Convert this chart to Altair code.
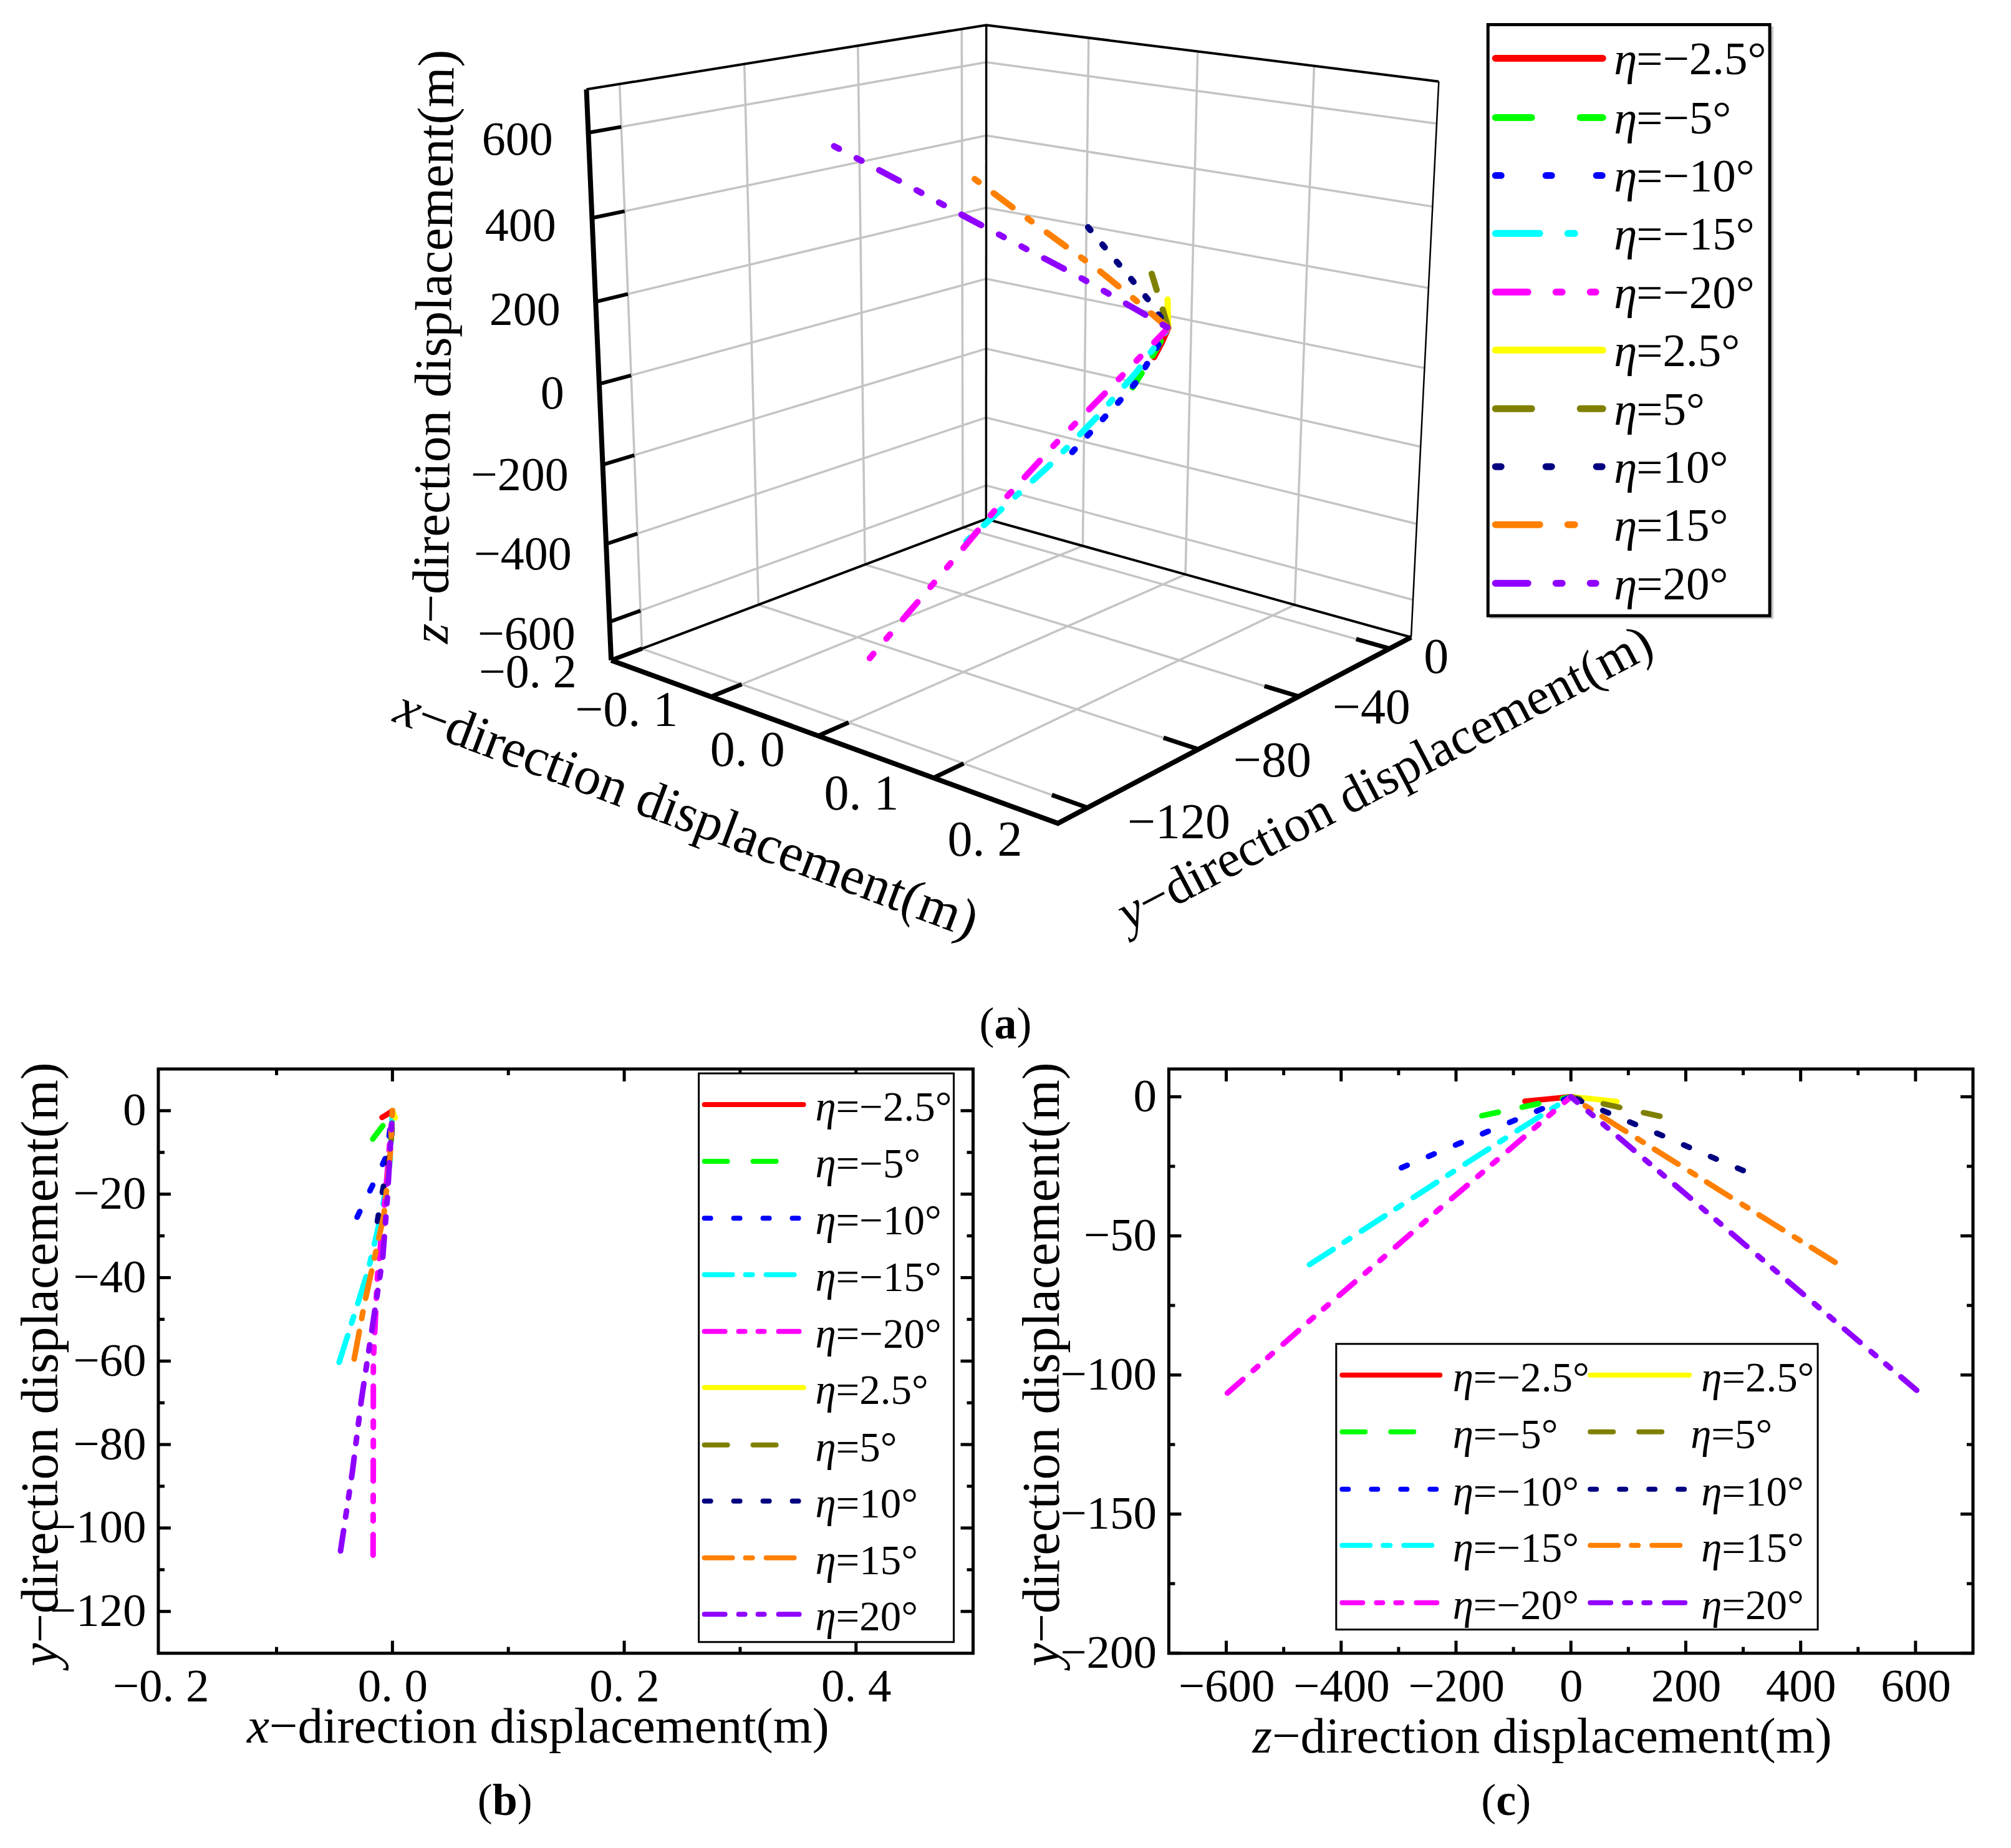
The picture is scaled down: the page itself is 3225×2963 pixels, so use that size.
import math
import numpy as np
import pandas as pd
import altair as alt

FONT = "Liberation Serif"

LABELS = ["−2.5°", "−5°", "−10°", "−15°", "−20°", "2.5°", "5°", "10°", "15°", "20°"]
COLORS = ["#ff0000", "#00ff00", "#0000ff", "#00ffff", "#ff00ff",
          "#ffff00", "#808000", "#000080", "#ff8000", "#8f00ff"]
STYLE = ["solid", "dash", "dot", "dashdot", "dashdotdot"] * 2

# every path runs from its tip back to the origin, so the dash pattern starts at the tip
X_M25 = [-0.009, -0.004, 0];  Y_M25 = [-1.6, -0.8, 0];  Z_M25 = [-80, -40, 0]
X_M5 = [-0.017, -0.008, 0];  Y_M5 = [-6.8, -3.5, 0];  Z_M5 = [-155, -80, 0]
X_M10 = [-0.0305, -0.02, -0.012, -0.005, 0];  Y_M10 = [-25.5, -19.5, -15, -10.7, 0];  Z_M10 = [-295, -226, -174, -124, 0]
X_M15 = [-0.046, -0.0376, -0.0207, -0.009, -0.002, 0];  Y_M15 = [-60.3, -53, -38, -24, -12, 0];  Z_M15 = [-455, -400, -288, -183, -92, 0]
X_M20 = [-0.0167, -0.0165, -0.0165, -0.013, -0.006, 0];  Y_M20 = [-106.5, -80, -60, -40, -20, 0];  Z_M20 = [-598, -452, -339, -227, -113, 0]
X_P25 = [0.0025, 0.001, 0];  Y_P25 = [-1.7, -0.8, 0];  Z_P25 = [80, 40, 0]
X_P5 = [-0.001, -0.0005, 0];  Y_P5 = [-7, -3.5, 0];  Z_P5 = [155, 78, 0]
X_P10 = [-0.013, -0.009, -0.005, -0.001, 0];  Y_P10 = [-26.5, -20, -14, -8, 0];  Z_P10 = [300, 226, 160, 90, 0]
X_P15 = [-0.033, -0.024, -0.0145, -0.0074, -0.002, 0];  Y_P15 = [-59.5, -46, -34, -25, -10.8, 0];  Z_P15 = [460, 355, 262, 193, 83, 0]
X_P20 = [-0.0448, -0.0346, -0.0269, -0.0176, -0.0083, -0.0043, 0];  Y_P20 = [-105.5, -86.6, -69.5, -52.3, -35, -20.5, 0];  Z_P20 = [602, 494, 396, 298, 200, 117, 0]

# x values as they read in the 3-D view, where they differ from panel (b)
X3_P15 = [-0.04, -0.029, -0.018, -0.01, -0.003, 0]
X3_P10 = [-0.016, -0.011, -0.007, -0.002, 0]

SERIES = [(X_M25, Y_M25, Z_M25), (X_M5, Y_M5, Z_M5), (X_M10, Y_M10, Z_M10), (X_M15, Y_M15, Z_M15), (X_M20, Y_M20, Z_M20),
          (X_P25, Y_P25, Z_P25), (X_P5, Y_P5, Z_P5), (X_P10, Y_P10, Z_P10), (X_P15, Y_P15, Z_P15), (X_P20, Y_P20, Z_P20)]
SERIES_3D = list(SERIES)
SERIES_3D[7] = (X3_P10, Y_P10, Z_P10)
SERIES_3D[8] = (X3_P15, Y_P15, Z_P15)

# dash patterns (round caps)
DASH_LEG_A = {"dash": [58, 78], "dot": [9, 72], "dashdot": [71, 45, 11, 61], "dashdotdot": [52, 45, 10, 45, 9, 45]}
DASH_CURVE = {"dash": [27, 39], "dot": [10, 37], "dashdot": [45, 21, 11, 22], "dashdotdot": [33, 22, 10, 21, 10, 23]}
DASH_LEG = {"dash": [37, 41, 37, 90], "dot": [10, 37], "dashdot": [45, 21, 11, 22], "dashdotdot": [33, 22, 10, 21, 10, 23]}
DASH_3D = {"dash": [27, 33], "dot": [6, 30], "dashdot": [8, 30, 38, 30], "dashdotdot": [9, 32, 9, 32, 36, 32]}

# camera calibration of the 3-D box: (x, y, z) -> picture position
CALIB = [(-.2, -130, -700, 977, 1058), (-.2, -130, 700, 937, 142), (-.2, 10, -700, 1582, 832), (-.2, 10, 700, 1582, 40),
         (.2, 10, -700, 2267, 1022), (.2, 10, 700, 2308, 130), (.2, -130, -700, 1698, 1321),
         (-.1, -130, -700, 1142, 1116.5), (0, -130, -700, 1314, 1180), (.1, -130, -700, 1497, 1247),
         (.2, 0, -700, 2227, 1038.5), (.2, -40, -700, 2080, 1117.5), (.2, -80, -700, 1926, 1201), (.2, -120, -700, 1742, 1294.5),
         (-.2, -130, 600, 946, 213), (-.2, -130, 400, 951, 349), (-.2, -130, 200, 956, 483), (-.2, -130, 0, 962, 616),
         (-.2, -130, -200, 967, 746), (-.2, -130, -400, 973, 872), (-.2, -130, -600, 978, 996.5)]


def norm(x, y, z):
    return np.array([x / 0.2, (y + 60) / 70, z / 700, 1.0])


rows = []
for x, y, z, u, v in CALIB:
    p = norm(x, y, z)
    u, v = u / 1000, v / 1000
    rows.append(list(p) + [0, 0, 0, 0] + list(-u * p))
    rows.append([0, 0, 0, 0] + list(p) + list(-v * p))
CAM = np.linalg.svd(np.array(rows))[2][-1].reshape(3, 4)


def project(x, y, z):
    h = CAM @ norm(x, y, z)
    return 1000 * h[0] / h[2], 1000 * h[1] / h[2]


A_X0, A_Y0, A_W, A_H = 254, 20, 2911, 1620
SX_A = alt.Scale(domain=[A_X0, A_X0 + A_W], nice=False, zero=False)
SY_A = alt.Scale(domain=[A_Y0 + A_H, A_Y0], nice=False, zero=False)
ONE = pd.DataFrame({"a": [0]})


def seg3d(pts, color, sw, cap="butt", dash=None):
    xy = [project(*p) for p in pts]
    df = pd.DataFrame({"px": [q[0] for q in xy], "py": [q[1] for q in xy], "i": range(len(xy))})
    kw = dict(color=color, strokeWidth=sw, strokeCap=cap)
    if dash:
        kw["strokeDash"] = dash
    return alt.Chart(df).mark_line(**kw).encode(
        x=alt.X("px:Q", scale=SX_A, axis=None), y=alt.Y("py:Q", scale=SY_A, axis=None), order="i:Q")


def text_at(org, s, x, y, size, align="left", base="alphabetic", angle=0, style="normal", weight="normal"):
    kw = dict(text=s, font=FONT, fontSize=size, align=align, baseline=base, color="black",
              fontStyle=style, fontWeight=weight)
    if angle:
        kw["angle"] = angle
    return alt.Chart(ONE).mark_text(**kw).encode(x=alt.value(x - org[0]), y=alt.value(y - org[1]))


def runs(org, pieces, x, y, size, angle=0):
    out, pos = [], 0.0
    a = math.radians(angle)
    for s, style, weight, w in pieces:
        out.append(text_at(org, s, x + pos * math.cos(a), y + pos * math.sin(a), size,
                           angle=angle, style=style, weight=weight))
        pos += w * size
    return out


def rule_at(org, x1, x2, y, color, sw, dash=None):
    kw = dict(color=color, strokeWidth=sw, strokeCap="round")
    if dash:
        kw["strokeDash"] = dash
    return alt.Chart(ONE).mark_rule(**kw).encode(
        x=alt.value(x1 - org[0]), x2=alt.value(x2 - org[0]), y=alt.value(y - org[1]))


def box_at(org, x1, x2, y1, y2, sw, fill="white", stroke="black"):
    return alt.Chart(ONE).mark_rect(fill=fill, stroke=stroke, strokeWidth=sw).encode(
        x=alt.value(x1 - org[0]), x2=alt.value(x2 - org[0]), y=alt.value(y1 - org[1]), y2=alt.value(y2 - org[1]))


def legend_row(org, i, sx1, sx2, ty, tx, rowy, size, sw, table, eta_adv):
    st = STYLE[i]
    out = [rule_at(org, sx1, sx2, rowy, COLORS[i], sw, table.get(st))]
    out.append(text_at(org, "η", tx, rowy + ty, size, style="italic"))
    out.append(text_at(org, "=" + LABELS[i], tx + eta_adv, rowy + ty, size))
    return out


# ---------- panel (a)
XT3 = [-0.1, 0, 0.1]
YT3 = [0, -40, -80, -120]
ZT3 = [600, 400, 200, 0, -200, -400, -600]
XL, XH, YL, YH, ZL, ZH = -0.2, 0.2, -130, 10, -700, 700
GRID = "#c4c4c4"
layers = []
# page anchors keep the whole picture registered to the page
anchor = pd.DataFrame({"px": [8.5, 3216.5], "py": [8.5, 2970.5]})
layers.append(alt.Chart(anchor).mark_square(size=1, opacity=0).encode(
    x=alt.X("px:Q", scale=SX_A, axis=None), y=alt.Y("py:Q", scale=SY_A, axis=None)))
for t in XT3:
    layers.append(seg3d([(t, YL, ZL), (t, YH, ZL), (t, YH, ZH)], GRID, 3.5))
for t in YT3:
    layers.append(seg3d([(XH, t, ZL), (XL, t, ZL), (XL, t, ZH)], GRID, 3.5))
for t in ZT3:
    layers.append(seg3d([(XL, YL, t), (XL, YH, t), (XH, YH, t)], GRID, 3.5))
for pts, sw in [([(XL, YL, ZH), (XL, YH, ZH), (XH, YH, ZH)], 4),
                ([(XL, YH, ZL), (XL, YH, ZH)], 3.5), ([(XH, YH, ZL), (XH, YH, ZH)], 2.5),
                ([(XL, YL, ZL), (XL, YH, ZL), (XH, YH, ZL)], 4)]:
    layers.append(seg3d(pts, "black", sw))
for t in XT3 + [XL]:
    layers.append(seg3d([(t, YL, ZL), (t, YL + 10, ZL)], "black", 7))
for t in YT3:
    layers.append(seg3d([(XH, t, ZL), (XH - 0.028, t, ZL)], "black", 7))
for t in ZT3:
    layers.append(seg3d([(XL, YL, t), (XL, YL + 10, t)], "black", 6))
for pts in [[(XL, YL, ZL), (XL, YL, ZH)], [(XL, YL, ZL), (XH, YL, ZL), (XH, YH, ZL)]]:
    layers.append(seg3d(pts, "black", 8))
for i, (xs, ys, zs) in enumerate(SERIES_3D):
    layers.append(seg3d(list(zip(xs, ys, zs)), COLORS[i], 10, "round", DASH_3D.get(STYLE[i])))

org_a = (A_X0, A_Y0)
for s, x, y in [("600", 887, 225), ("400", 892, 363), ("200", 899, 498), ("0", 905, 632), ("−200", 912, 763),
                ("−400", 917, 890), ("−600", 923, 1018), ("−0. 2", 925, 1079)]:
    layers.append(text_at(org_a, s, x, y, 76, align="right", base="middle"))
for s, x, y in [("−0. 1", 1005, 1140), ("0. 0", 1199, 1204), ("0. 1", 1382, 1274), ("0. 2", 1580, 1348),
                ("0", 2304, 1055), ("−40", 2200, 1136), ("−80", 2041, 1221), ("−120", 1891, 1320)]:
    layers.append(text_at(org_a, s, x, y, 80, align="center", base="middle"))
layers += runs(org_a, [("z", "italic", "normal", .389), ("−direction displacement(m)", "normal", "normal", 0)], 718, 1032, 83, 270.6)
layers += runs(org_a, [("x", "italic", "normal", .444), ("−direction displacement(m)", "normal", "normal", 0)], 628, 1156, 86, 20.6)
layers += runs(org_a, [("y", "italic", "normal", .444), ("−direction displacement(m)", "normal", "normal", 0)], 1810, 1493, 83, 332.3)
layers += runs(org_a, [("(", "normal", "normal", .333), ("a", "normal", "bold", .5), (")", "normal", "normal", 0)], 1571, 1665, 72)
layers += runs(org_a, [("(", "normal", "normal", .333), ("b", "normal", "bold", .556), (")", "normal", "normal", 0)], 766, 2910, 72)
layers += runs(org_a, [("(", "normal", "normal", .333), ("c", "normal", "bold", .444), (")", "normal", "normal", 0)], 2376, 2910, 72)
# legend (a)
layers.append(box_at(org_a, 2391, 2844, 43, 991, 2, fill="#c8c8c8", stroke="#c8c8c8"))
layers.append(box_at(org_a, 2387, 2839, 39, 987, 5))
ROWS_A = [93, 188, 281, 374, 468, 561, 655, 748, 841, 935]
for i, ry in enumerate(ROWS_A):
    layers += legend_row(org_a, i, 2399, 2571, 26, 2589, ry, 75, 11, DASH_LEG_A, 36)
# panel b / c titles live on the page layer
layers += runs(org_a, [("x", "italic", "normal", .444), ("−direction displacement(m)", "normal", "normal", 0)], 396, 2794, 81)
layers += runs(org_a, [("y", "italic", "normal", .444), ("−direction displacement(m)", "normal", "normal", 0)], 92, 2672, 84, 270)
layers += runs(org_a, [("z", "italic", "normal", .389), ("−direction displacement(m)", "normal", "normal", 0)], 2009, 2810, 81)
layers += runs(org_a, [("y", "italic", "normal", .444), ("−direction displacement(m)", "normal", "normal", 0)], 1699, 2672, 84, 270)
panel_a = alt.layer(*layers).properties(width=A_W, height=A_H)


# ---------- panels (b), (c)
def flat_panel(field, W, H, org, xdom, ydom, xmaj, xmin, ymaj, ymin, xexpr, legend):
    sx = alt.Scale(domain=xdom, nice=False, zero=False)
    sy = alt.Scale(domain=ydom, nice=False, zero=False)
    ax = dict(title=None, ticks=False, domain=False, grid=False, labelFont=FONT, labelFontSize=75,
              labelColor="black", labelOverlap=False, labelBound=False, labelFlush=False)
    xa = alt.Axis(values=xmaj, labelExpr=xexpr, labelPadding=18, **ax)
    ya = alt.Axis(values=ymaj, labelPadding=20, labelExpr="replace(format(datum.value,'d'),'-','−')", **ax)
    ls = []
    for i, s in enumerate(SERIES):
        df = pd.DataFrame({"u": s[0] if field == 0 else s[2], "v": s[1], "i": range(len(s[0]))})
        kw = dict(color=COLORS[i], strokeWidth=9, strokeCap="round")
        if DASH_CURVE.get(STYLE[i]):
            kw["strokeDash"] = DASH_CURVE[STYLE[i]]
        ls.append(alt.Chart(df).mark_line(**kw).encode(
            x=alt.X("u:Q", scale=sx, axis=xa), y=alt.Y("v:Q", scale=sy, axis=ya), order="i:Q"))
    span = xdom[1] - xdom[0]
    for vals, length in [(xmaj, 20), (xmin, 10)]:
        df = pd.DataFrame({"t": [v for v in vals if abs(v - xdom[0]) > span * 0.01]})
        e = alt.X("t:Q", scale=sx, axis=xa)
        ls.append(alt.Chart(df).mark_rule(color="black", strokeWidth=5).encode(x=e, y=alt.value(H), y2=alt.value(H - length)))
        ls.append(alt.Chart(df).mark_rule(color="black", strokeWidth=5).encode(x=e, y=alt.value(0), y2=alt.value(length)))
    for vals, length in [(ymaj, 20), (ymin, 10)]:
        df = pd.DataFrame({"t": vals})
        e = alt.Y("t:Q", scale=sy, axis=ya)
        ls.append(alt.Chart(df).mark_rule(color="black", strokeWidth=5).encode(y=e, x=alt.value(0), x2=alt.value(length)))
        ls.append(alt.Chart(df).mark_rule(color="black", strokeWidth=5).encode(y=e, x=alt.value(W), x2=alt.value(W - length)))
    ls += legend(org)
    return alt.layer(*ls).properties(width=W, height=H, view=alt.ViewBackground(stroke="black", strokeWidth=5))


def legend_b(org):
    out = [box_at(org, 1121, 1530, 1721, 2633, 3)]
    for i, ry in enumerate([1771, 1862, 1953.5, 2044, 2135, 2225, 2317, 2407, 2498, 2588.5]):
        out += legend_row(org, i, 1130, 1289, 26, 1308, ry, 67, 8, DASH_LEG, 33)
    return out


def legend_c(org):
    out = [box_at(org, 2143.5, 2916, 2155, 2613, 3)]
    rows_c = [2205, 2296, 2388, 2478, 2570]
    for j, ry in enumerate(rows_c):
        out += legend_row(org, j, 2153, 2310, 26, 2330.5, ry, 67, 8, DASH_LEG, 33)
        out += legend_row(org, j + 5, 2551, 2710, 26, 2712 if j == 1 else 2729, ry, 67, 8, DASH_LEG, 33)
    return out


panel_b = flat_panel(0, 1307, 937, (254, 1714), [-0.202, 0.501], [-130, 10],
                     [-0.2, 0, 0.2, 0.4], [-0.1, 0.1, 0.3],
                     [0, -20, -40, -60, -80, -100, -120], [-10, -30, -50, -70, -90, -110],
                     "replace(format(datum.value,'.1f'),'.','. ')", legend_b)
panel_c = flat_panel(2, 1290, 937, (1875, 1714), [-700, 700], [-200, 10],
                     [-600, -400, -200, 0, 200, 400, 600], [-500, -300, -100, 100, 300, 500],
                     [0, -50, -100, -150, -200], [-25, -75, -125, -175],
                     "format(datum.value,'d')", legend_c)

chart = alt.vconcat(panel_a, alt.hconcat(panel_b, panel_c, spacing=314, bounds="flush"),
                    spacing=74, bounds="flush").properties(padding=0, background="white").configure_view(stroke=None)
chart.save("out.html", embed_options={"renderer": "svg", "actions": False})
